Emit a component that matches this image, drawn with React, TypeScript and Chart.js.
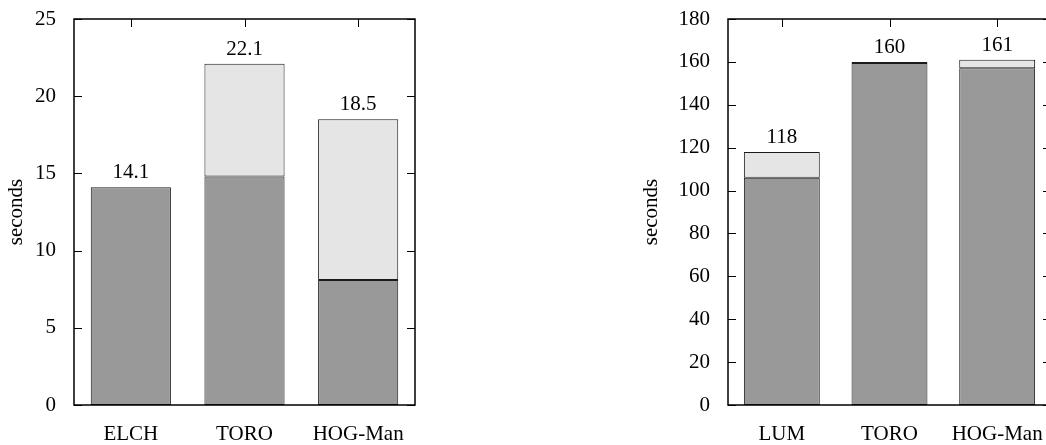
import React, { useEffect, useRef } from "react";
import { Chart, registerables } from "chart.js";

Chart.register(...registerables);

// ---- Data ----
const leftCategories = ["ELCH", "TORO", "HOG-Man"];
const leftBase = [14.1, 14.8, 8.1];
const leftExtra = [0, 7.3, 10.4];
const leftYMax = 25;
const leftYStep = 5;
const leftDecimals = 1;

const rightCategories = ["LUM", "TORO", "HOG-Man"];
const rightBase = [106, 159.5, 157];
const rightExtra = [12, 0.5, 4];
const rightYMax = 180;
const rightYStep = 20;
const rightDecimals = 0;

const yTitle = "seconds";

const FONT = "'Liberation Serif', 'Times New Roman', serif";
const FS = 21;
const DARK = "#999999";
const LIGHT = "#e5e5e5";
const EDGE = "#1a1a1a";

const framePlugin = {
  id: "gnuFrame",
  afterDatasetsDraw(chart: any, _args: any, opts: any) {
    const { ctx, chartArea: a, scales } = chart;
    const y = scales.y;
    const x = scales.x;
    const TL = 8;
    ctx.save();
    ctx.strokeStyle = "#000";
    ctx.lineWidth = 1;
    y.ticks.forEach((t: any) => {
      const py = Math.round(y.getPixelForValue(t.value)) + 0.5;
      ctx.beginPath();
      ctx.moveTo(a.left, py);
      ctx.lineTo(a.left + TL, py);
      ctx.moveTo(a.right, py);
      ctx.lineTo(a.right - TL, py);
      ctx.stroke();
    });
    x.ticks.forEach((_t: any, i: number) => {
      const px = Math.round(x.getPixelForValue(i)) + 0.5;
      ctx.beginPath();
      ctx.moveTo(px, a.top);
      ctx.lineTo(px, a.top + TL);
      ctx.stroke();
    });
    ctx.lineWidth = 1.5;
    ctx.strokeRect(a.left, a.top, a.right - a.left, a.bottom - a.top);

    // totals above bars
    const ds = chart.data.datasets;
    const metas = ds.map((_d: any, k: number) => chart.getDatasetMeta(k));
    ctx.fillStyle = "#000";
    ctx.font = `${FS}px ${FONT}`;
    ctx.textAlign = "center";
    ctx.textBaseline = "alphabetic";
    const n = chart.data.labels.length;
    for (let i = 0; i < n; i++) {
      let total = 0;
      let topY = Infinity;
      let cx = 0;
      ds.forEach((d: any, k: number) => {
        total += d.data[i];
        const el = metas[k].data[i];
        if (el.y < topY) topY = el.y;
        cx = el.x;
      });
      ctx.fillText(total.toFixed(opts.decimals), cx, topY - 9);
    }
    ctx.restore();
  },
};

function makeConfig(
  labels: string[],
  base: number[],
  extra: number[],
  yMax: number,
  yStep: number,
  decimals: number,
  axisWidth: number,
  padRight: number
): any {
  return {
    type: "bar",
    data: {
      labels,
      datasets: [
        {
          data: base,
          backgroundColor: DARK,
          borderColor: EDGE,
          borderWidth: 1,
          borderSkipped: false,
          categoryPercentage: 1,
          barPercentage: 0.705,
        },
        {
          data: extra,
          backgroundColor: LIGHT,
          borderColor: EDGE,
          borderWidth: 1,
          borderSkipped: false,
          categoryPercentage: 1,
          barPercentage: 0.705,
        },
      ],
    },
    options: {
      responsive: false,
      animation: false,
      devicePixelRatio: 1,
      layout: { padding: { top: 19, right: padRight, bottom: 0, left: 0 } },
      plugins: {
        legend: { display: false },
        tooltip: { enabled: false },
        gnuFrame: { decimals },
      },
      scales: {
        x: {
          stacked: true,
          grid: { display: false, drawTicks: true, tickLength: 17 },
          border: { display: false },
          ticks: { color: "#000", font: { family: FONT, size: FS }, padding: 0 },
          afterFit(s: any) {
            s.height = 40;
          },
        },
        y: {
          stacked: true,
          min: 0,
          max: yMax,
          grid: { display: false, drawTicks: true, tickLength: 18 },
          border: { display: false },
          ticks: {
            stepSize: yStep,
            color: "#000",
            font: { family: FONT, size: FS },
            padding: 0,
          },
          title: {
            display: true,
            text: yTitle,
            color: "#000",
            font: { family: FONT, size: FS },
            padding: { top: 4, bottom: 0 },
          },
          afterFit(s: any) {
            s.width = axisWidth;
          },
        },
      },
    },
    plugins: [framePlugin],
  };
}

export default function App() {
  const leftRef = useRef<HTMLCanvasElement>(null);
  const rightRef = useRef<HTMLCanvasElement>(null);

  useEffect(() => {
    const c1 = new Chart(
      leftRef.current as HTMLCanvasElement,
      makeConfig(leftCategories, leftBase, leftExtra, leftYMax, leftYStep, leftDecimals, 74, 25)
    );
    const c2 = new Chart(
      rightRef.current as HTMLCanvasElement,
      makeConfig(rightCategories, rightBase, rightExtra, rightYMax, rightYStep, rightDecimals, 93, 24)
    );
    return () => {
      c1.destroy();
      c2.destroy();
    };
  }, []);

  return (
    <div
      style={{
        position: "fixed",
        left: 0,
        top: 0,
        width: 1046,
        height: 445,
        overflow: "hidden",
        background: "#fff",
      }}
    >
      <canvas
        ref={leftRef}
        width={440}
        height={445}
        style={{ position: "absolute", left: 0, top: 0, width: 440, height: 445 }}
      />
      <canvas
        ref={rightRef}
        width={440}
        height={445}
        style={{ position: "absolute", left: 635, top: 0, width: 440, height: 445 }}
      />
    </div>
  );
}
